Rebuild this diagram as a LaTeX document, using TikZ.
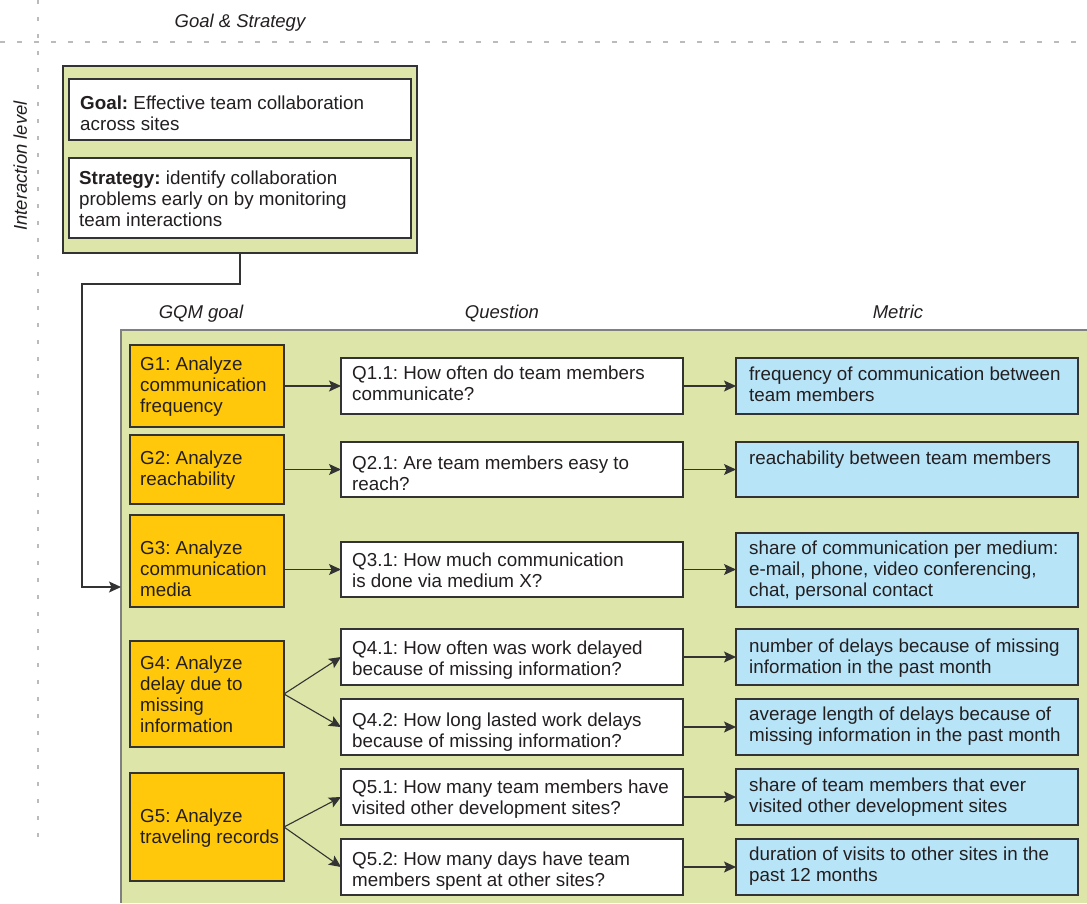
\documentclass[tikz,border=0pt]{standalone}
\usepackage{fontspec}
\setmainfont{Liberation Sans}
\usetikzlibrary{arrows.meta}
\definecolor{bgreen}{HTML}{DDE6A8}
\definecolor{gorange}{HTML}{FFC80A}
\definecolor{mblue}{HTML}{B8E4F8}
\definecolor{txtc}{HTML}{231F20}
\definecolor{edgec}{HTML}{333333}
\definecolor{framec}{HTML}{808080}
\definecolor{dashc}{HTML}{BBBBBB}
\frenchspacing
\begin{document}
\begin{tikzpicture}[x=1pt,y=-1pt,
  box/.style={draw=edgec, line width=1.2pt, inner sep=0pt, outer sep=0pt, anchor=north west},
  gbox/.style={box, fill=gorange},
  qbox/.style={box, fill=white},
  mbox/.style={box, fill=mblue},
  txt/.style={anchor=north west, inner sep=0pt, align=left, text=txtc, font=\fontsize{18.8}{21}\selectfont},
  hdr/.style={inner sep=0pt, anchor=base, text=txtc, font=\fontsize{18.5}{21}\selectfont\itshape},
  arr/.style={draw=edgec, line width=1.1pt, -{Stealth[length=12pt,width=11pt,inset=2.5pt]}},
  hgrid/.style={draw=dashc, line width=2pt, dash pattern=on 5pt off 12pt},
  vgrid/.style={draw=dashc, line width=2pt, dash pattern=on 4pt off 13pt}]
\useasboundingbox (0,0) rectangle (1087,903);
% grid
\coordinate (hl) at (0,42); \coordinate (hr) at (1087,42);
\coordinate (vt) at (38,0); \coordinate (vb) at (38,843);
\draw[hgrid] (hl) -- (hr);
\draw[vgrid] (vt) -- (vb);
\node[hdr] (hgs) at (240,27) {Goal \& Strategy};
\node[hdr, rotate=90] (hil) at (27,166) {Interaction level};
% goal & strategy
\node[box, fill=bgreen, minimum width=354, minimum height=187] (gs) at (63,66) {};
\node[qbox, minimum width=342, minimum height=61] (goal) at (69,79) {};
\node[qbox, minimum width=342, minimum height=80] (strat) at (69,158) {};
\node[txt] (goalt) at (80,96) {\textbf{Goal:} Effective team collaboration\\across sites};
\node[txt] (stratt) at (79,171) {\textbf{Strategy:} identify collaboration\\problems early on by monitoring\\team interactions};
% GQM area
\node[fill=bgreen, inner sep=0pt, outer sep=0pt, anchor=north west, minimum width=966, minimum height=573] (gqm) at (121,330) {};
\draw[draw=framec, line width=1.5pt] (gqm.north east) -- (gqm.north west) -- (gqm.south west);
\node[hdr] (hg) at (201,318) {GQM goal};
\node[hdr] (hq) at (502,318) {Question};
\node[hdr] (hm) at (898,318) {Metric};
% connector
\coordinate (c1) at (82,284);
\coordinate (c2) at (82,587);
\draw[arr] (gs.south) |- (c1) -- (c2) -- (c2 -| gqm.west);
% goals
\node[gbox, minimum width=154, minimum height=82] (g1) at (130,345) {};
\node[gbox, minimum width=154, minimum height=69] (g2) at (130,435) {};
\node[gbox, minimum width=154, minimum height=92] (g3) at (130,515) {};
\node[gbox, minimum width=154, minimum height=106] (g4) at (130,641) {};
\node[gbox, minimum width=154, minimum height=108] (g5) at (130,773) {};
\node[txt] (g1t) at (140,357) {G1: Analyze\\communication\\frequency};
\node[txt] (g2t) at (140,451) {G2: Analyze\\reachability};
\node[txt] (g3t) at (140,541) {G3: Analyze\\communication\\media};
\node[txt] (g4t) at (140,656) {G4: Analyze\\delay due to\\missing\\information};
\node[txt] (g5t) at (140,809) {G5: Analyze\\traveling records};
% questions
\node[qbox, minimum width=342, minimum height=56] (q11) at (341,358) {};
\node[qbox, minimum width=342, minimum height=55] (q21) at (341,442) {};
\node[qbox, minimum width=342, minimum height=55] (q31) at (341,542) {};
\node[qbox, minimum width=342, minimum height=56] (q41) at (341,629) {};
\node[qbox, minimum width=342, minimum height=56] (q42) at (341,699) {};
\node[qbox, minimum width=342, minimum height=56] (q51) at (341,769) {};
\node[qbox, minimum width=342, minimum height=56] (q52) at (341,839) {};
\node[txt] (q11t) at (352,366) {Q1.1: How often do team members\\communicate?};
\node[txt] (q21t) at (352,456) {Q2.1: Are team members easy to\\reach?};
\node[txt] (q31t) at (352,553) {Q3.1: How much communication\\is done via medium X?};
\node[txt] (q41t) at (352,641) {Q4.1: How often was work delayed\\because of missing information?};
\node[txt] (q42t) at (352,713) {Q4.2: How long lasted work delays\\because of missing information?};
\node[txt] (q51t) at (352,780) {Q5.1: How many team members have\\visited other development sites?};
\node[txt] (q52t) at (352,852) {Q5.2: How many days have team\\members spent at other sites?};
% metrics
\node[mbox, minimum width=342, minimum height=56] (m1) at (736,358) {};
\node[mbox, minimum width=342, minimum height=55] (m2) at (736,442) {};
\node[mbox, minimum width=342, minimum height=74] (m3) at (736,533) {};
\node[mbox, minimum width=342, minimum height=56] (m4) at (736,629) {};
\node[mbox, minimum width=342, minimum height=56] (m5) at (736,699) {};
\node[mbox, minimum width=342, minimum height=56] (m6) at (736,769) {};
\node[mbox, minimum width=342, minimum height=56] (m7) at (736,839) {};
\node[txt] (m1t) at (749,367) {frequency of communication between\\team members};
\node[txt] (m2t) at (749,451) {reachability between team members};
\node[txt] (m3t) at (749,541) {share of communication per medium:\\e-mail, phone, video conferencing,\\chat, personal contact};
\node[txt] (m4t) at (749,639) {number of delays because of missing\\information in the past month};
\node[txt] (m5t) at (749,707) {average length of delays because of\\missing information in the past month};
\node[txt] (m6t) at (749,778) {share of team members that ever\\visited other development sites};
\node[txt] (m7t) at (749,847) {duration of visits to other sites in the\\past 12 months};
% arrows goal -> question
\draw[arr] (g1.east) -- (q11.west);
\draw[arr] (g2.east) -- (q21.west);
\draw[arr] (q31.west -| g3.east) -- (q31.west);
\draw[arr] (g4.east) -- (q41.west);
\draw[arr] (g4.east) -- (q42.west);
\draw[arr] (g5.east) -- (q51.west);
\draw[arr] (g5.east) -- (q52.west);
% arrows question -> metric
\draw[arr] (q11.east) -- (m1.west);
\draw[arr] (q21.east) -- (m2.west);
\draw[arr] (q31.east) -- (q31.east -| m3.west);
\draw[arr] (q41.east) -- (m4.west);
\draw[arr] (q42.east) -- (m5.west);
\draw[arr] (q51.east) -- (m6.west);
\draw[arr] (q52.east) -- (m7.west);
\end{tikzpicture}
\end{document}
